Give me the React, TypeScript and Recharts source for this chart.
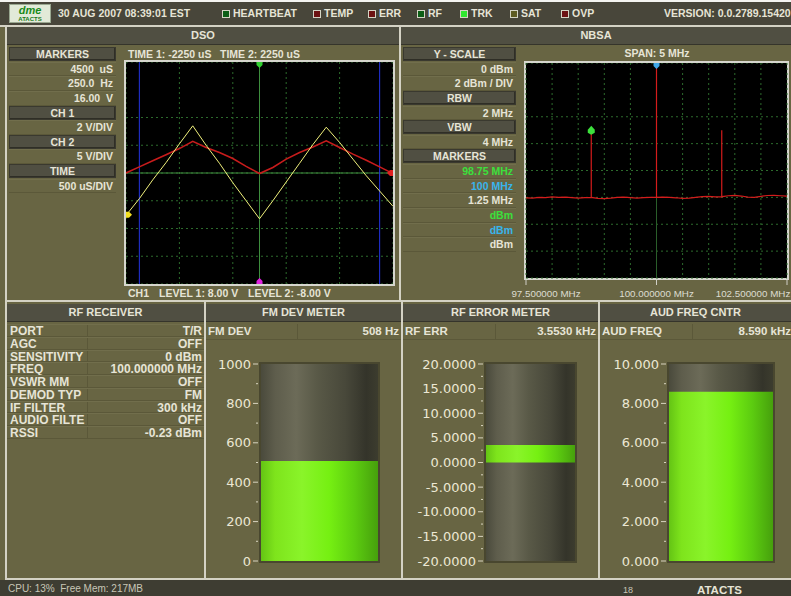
import React from 'react';
import { LineChart, Line, XAxis, YAxis, CartesianGrid, ReferenceLine, ReferenceDot, BarChart, Bar } from 'recharts';

// DSO trace readings (time in uS, CH1 in V at 2 V/div, CH2 in V at 5 V/div)
const dsoTime = [-2500, -2250, -2000, -1750, -1500, -1250, -1000, -750, -500, -250, 0, 250, 500, 750, 1000, 1250, 1500, 1750, 2000, 2250, 2500];
const ch1Volts = [-3.05, -1.85, -0.5, 0.75, 2.1, 3.4, 2.0, 0.7, -0.7, -2.0, -3.3, -2.0, -0.65, 0.7, 2.05, 3.3, 2.2, 1.0, -0.2, -1.3, -2.4];
const ch2Volts = [0, 1.1, 2.2, 3.3, 4.4, 5.7, 4.6, 3.7, 2.6, 1.2, -0.1, 1.0, 2.5, 3.7, 4.7, 5.8, 4.6, 3.4, 2.3, 1.1, -0.1];
const dsoGridTimes = [-2500, -2000, -1500, -1000, -500, 0, 500, 1000, 1500, 2000, 2500];
const ch1GridVolts = [-8, -6, -4, -2, 0, 2, 4, 6, 8];
const timeMarkers = [-2250, 2250];
const ch1Offset = -3.0;

// NBSA spectrum readings (MHz, dBm)
const spectrumFreq = [97.5, 97.625, 97.75, 97.875, 98.0, 98.125, 98.25, 98.375, 98.5, 98.625, 98.75, 98.875, 99.0, 99.125, 99.25, 99.375, 99.5, 99.625, 99.75, 99.875, 100, 100.125, 100.25, 100.375, 100.5, 100.625, 100.75, 100.875, 101.0, 101.125, 101.25, 101.375, 101.5, 101.625, 101.75, 101.875, 102.0, 102.125, 102.25, 102.375, 102.5];
const spectrumLevel = [-10.03, -10.05, -10.0, -10.02, -9.97, -10.0, -9.98, -10.02, -10.05, -10.02, -10.0, -10.08, -10.1, -10.06, -10.0, -9.98, -10.02, -10.05, -10.02, -10.0, -10.0, -9.98, -10.0, -10.03, -10.08, -10.05, -10.0, -9.95, -9.92, -9.96, -9.95, -9.88, -9.85, -9.9, -9.98, -10.0, -9.92, -9.86, -9.85, -9.88, -9.9];
const spurFreq = [98.75, 100, 101.25];
const spurPeak = [-5.05, 0, -5.0];
const spanGridFreq = [97.5, 98, 98.5, 99, 99.5, 100, 100.5, 101, 101.5, 102, 102.5];
const spanLabelFreq = [97.5, 100, 102.5];
const levelGrid = [-16, -14, -12, -10, -8, -6, -4, -2, 0];

// meters
const fmDevTicks = [0, 100, 200, 300, 400, 500, 600, 700, 800, 900, 1000];
const fmDevMajor = [0, 200, 400, 600, 800, 1000];
const rfErrTicks = [-20, -17.5, -15, -12.5, -10, -7.5, -5, -2.5, 0, 2.5, 5, 7.5, 10, 12.5, 15, 17.5, 20];
const rfErrMajor = [-20, -15, -10, -5, 0, 5, 10, 15, 20];
const audTicks = [0, 1, 2, 3, 4, 5, 6, 7, 8, 9, 10];
const audMajor = [0, 2, 4, 6, 8, 10];
const fmDevValue = [{ name: 'FM DEV', value: 508 }];
const rfErrValue = [{ name: 'RF ERR', value: 3.553 }];
const audValue = [{ name: 'AUD FREQ', value: 8.59 }];

const rxLabels = ['PORT', 'AGC', 'SENSITIVITY', 'FREQ', 'VSWR MM', 'DEMOD TYP', 'IF FILTER', 'AUDIO FILTE', 'RSSI'];
const rxValues = ['T/R', 'OFF', '0 dBm', '100.000000 MHz', 'OFF', 'FM', '300 kHz', 'OFF', '-0.23 dBm'];

const dsoData = dsoTime.map((t, i) => ({ t, ch1: ch1Volts[i], ch2: ch2Volts[i] }));

const spectrumData: { f: number; v: number }[] = [];
spectrumFreq.forEach((f, i) => {
  spectrumData.push({ f, v: spectrumLevel[i] });
  const s = spurFreq.indexOf(f);
  if (s >= 0) {
    spectrumData.push({ f, v: spurPeak[s] });
    spectrumData.push({ f, v: spectrumLevel[i] });
  }
});

const OLIVE = '#686543';
const HEAD = '#504f42';
const LINE = '#d4d2c4';
const TXT = '#e6e4d6';
const FONT = '"Liberation Sans", Arial, sans-serif';

const abs = (left: number, top: number, width: number, height: number, extra: React.CSSProperties = {}): React.CSSProperties => ({
  position: 'absolute', left, top, width, height, boxSizing: 'border-box', ...extra,
});

type Item = { text: string; head?: boolean; color?: string };

const SideColumn = ({ x, y, w, items }: { x: number; y: number; w: number; items: Item[] }) => (
  <>
    {items.map((it, i) =>
      it.head ? (
        <div key={i} style={abs(x, y + i * 14.63, w, 14, {
          background: HEAD, border: '1px solid #3a392f', boxShadow: 'inset -1px -1px 0 #2f2e26',
          color: TXT, fontWeight: 'bold', fontSize: 10.5, textAlign: 'center', lineHeight: '12px',
        })}>{it.text}</div>
      ) : (
        <div key={i} style={abs(x, y + i * 14.63, w, 14.63, {
          borderBottom: '1px solid #5b5839', borderTop: '1px solid #716e4c',
          color: it.color || TXT, fontWeight: 'bold', fontSize: 10.5, textAlign: 'right',
          paddingRight: 3, lineHeight: '12.5px', whiteSpace: 'pre',
        })}>{it.text}</div>
      )
    )}
  </>
);

const Header = ({ x, y, w, text }: { x: number; y: number; w: number; text: string }) => (
  <div style={abs(x, y, w, 18, {
    background: HEAD, borderBottom: '1px solid #35342b', color: TXT, fontWeight: 'bold',
    fontSize: 11, textAlign: 'center', lineHeight: '17px',
  })}>{text}</div>
);

const arrowShape = (color: string, dir: 'right' | 'left' | 'down' | 'up') => (p: any) => {
  const { cx, cy } = p;
  let d = '';
  if (dir === 'right') d = `M${cx},${cy - 3} L${cx + 3},${cy - 3} L${cx + 6},${cy} L${cx + 3},${cy + 3} L${cx},${cy + 3} Z`;
  if (dir === 'left') d = `M${cx},${cy - 3} L${cx - 3},${cy - 3} L${cx - 6},${cy} L${cx - 3},${cy + 3} L${cx},${cy + 3} Z`;
  if (dir === 'down') d = `M${cx - 3},${cy} L${cx + 3},${cy} L${cx + 3},${cy + 3} L${cx},${cy + 6} L${cx - 3},${cy + 3} Z`;
  if (dir === 'up') d = `M${cx - 3},${cy} L${cx + 3},${cy} L${cx + 3},${cy - 3} L${cx},${cy - 6} L${cx - 3},${cy - 3} Z`;
  return <path d={d} fill={color} />;
};

const diamondShape = (color: string) => (p: any) => {
  const { cx, cy } = p;
  return <path d={`M${cx},${cy - 5} L${cx + 3.5},${cy - 1} L${cx + 3.5},${cy + 2} L${cx},${cy + 4} L${cx - 3.5},${cy + 2} L${cx - 3.5},${cy - 1} Z`} fill={color} />;
};

const SpanTick = (props: any) => {
  const { x, y, payload } = props;
  const v = payload.value;
  if (!spanLabelFreq.includes(v)) return <g />;
  const shift = v === spanLabelFreq[0] ? 20 : v === spanLabelFreq[spanLabelFreq.length - 1] ? -34 : 0;
  return (
    <g>
      <line x1={x} x2={x} y1={y + 2} y2={y + 7} stroke="#d0d0c8" />
      <text x={x + shift} y={y + 18.5} textAnchor="middle" fill="#dcdcd0" fontSize={9.8} fontFamily={FONT}>
        {v.toFixed(6)} MHz
      </text>
    </g>
  );
};

const meterTick = (major: number[], digits: number) => (props: any) => {
  const { x, y, payload } = props;
  const v = payload.value;
  const isMajor = major.includes(v);
  return (
    <g>
      <line x1={x - (isMajor ? 8 : 5)} x2={x - 3} y1={y} y2={y} stroke="#d8d4c0" />
      {isMajor && (
        <text x={x - 10} y={y + 4.5} textAnchor="end" fill="#ece8d4" fontSize={13} fontFamily='"DejaVu Sans", sans-serif'>
          {v.toFixed(digits)}
        </text>
      )}
    </g>
  );
};

const Meter = ({ left, right, plotLeft, plotRight, data, domain, ticks, major, digits, label, value, divider }: any) => {
  const top = 355;
  const height = 215;
  return (
    <>
      <div style={abs(left, 324, right - left, 16, { borderBottom: '1px solid #5b5839' })}>
        <span style={{ position: 'absolute', left: 2, top: 1, fontWeight: 'bold', fontSize: 11.5, color: TXT }}>{label}</span>
        <span style={{ position: 'absolute', right: 2, top: 1, fontWeight: 'bold', fontSize: 11.5, color: TXT, whiteSpace: 'nowrap' }}>{value}</span>
        <div style={abs(divider - left, 0, 1, 15, { background: '#5b5839' })} />
      </div>
      <div style={abs(plotLeft - 2, 362, plotRight - plotLeft + 4, 201, { background: '#49472f' })} />
      <div style={{ position: 'absolute', left, top }}>
        <BarChart width={right - left} height={height} data={data} barCategoryGap={0}
          margin={{ top: 9, bottom: 9, left: 0, right: right - plotRight }}>
          <XAxis dataKey="name" hide />
          <YAxis domain={domain} ticks={ticks} interval={0} width={plotLeft - left} axisLine={false}
            tickLine={false} tickSize={0} tickMargin={0} tick={meterTick(major, digits)} />
          <Bar dataKey="value" fill="url(#meterGreen)" background={{ fill: 'url(#meterBack)' }} isAnimationActive={false} />
        </BarChart>
      </div>
    </>
  );
};

const statusItems = [
  { label: 'HEARTBEAT', color: '#0c5e16', x: 222 },
  { label: 'TEMP', color: '#6c1212', x: 313 },
  { label: 'ERR', color: '#6c1212', x: 368 },
  { label: 'RF', color: '#0c5e16', x: 417 },
  { label: 'TRK', color: '#30e830', x: 460 },
  { label: 'SAT', color: '#5e5c22', x: 510 },
  { label: 'OVP', color: '#6c1212', x: 561 },
];

export default function App() {
  return (
    <div style={{ position: 'absolute', left: 0, top: 0, width: 791, height: 596, overflow: 'hidden', background: OLIVE, fontFamily: FONT }}>
      <svg width={0} height={0} style={{ position: 'absolute' }}>
        <defs>
          <linearGradient id="meterBack" x1="0" y1="0" x2="1" y2="0">
            <stop offset="0%" stopColor="#4a4a3c" />
            <stop offset="12%" stopColor="#5e5d4c" />
            <stop offset="30%" stopColor="#6c6b58" />
            <stop offset="48%" stopColor="#595947" />
            <stop offset="72%" stopColor="#48483a" />
            <stop offset="90%" stopColor="#34342a" />
            <stop offset="100%" stopColor="#3c3c2e" />
          </linearGradient>
          <linearGradient id="meterGreen" x1="0" y1="0" x2="1" y2="0">
            <stop offset="0%" stopColor="#64c414" />
            <stop offset="12%" stopColor="#7ee41c" />
            <stop offset="35%" stopColor="#8af42a" />
            <stop offset="58%" stopColor="#76f012" />
            <stop offset="80%" stopColor="#5ccc10" />
            <stop offset="100%" stopColor="#46a00c" />
          </linearGradient>
        </defs>
      </svg>

      {/* top bar */}
      <div style={abs(0, 0, 791, 2, { background: '#f4f4f0' })} />
      <div style={abs(0, 2, 791, 23, { background: '#48463a' })}>
        <div style={abs(9, 2, 42, 19, { background: '#e2ead8', border: '1px solid #9aa890', overflow: 'hidden' })}>
          <div style={{ color: '#1a8a1a', fontWeight: 'bold', fontStyle: 'italic', fontSize: 11, lineHeight: '11px', textAlign: 'center' }}>dme</div>
          <div style={{ color: '#1a7a1a', fontWeight: 'bold', fontSize: 6, lineHeight: '6px', textAlign: 'center' }}>ATACTS</div>
        </div>
        <div style={{ position: 'absolute', left: 58, top: 5, color: TXT, fontWeight: 'bold', fontSize: 10.5 }}>30 AUG 2007 08:39:01 EST</div>
        {statusItems.map((s) => (
          <div key={s.label} style={{ position: 'absolute', left: s.x, top: 5, color: TXT, fontWeight: 'bold', fontSize: 10.5, whiteSpace: 'nowrap' }}>
            <span style={{ display: 'inline-block', width: 6, height: 6, border: '1px solid #d4d4c4', background: s.color, marginRight: 3, verticalAlign: '-1px' }} />
            {s.label}
          </div>
        ))}
        <div style={{ position: 'absolute', left: 664, top: 5, color: TXT, fontWeight: 'bold', fontSize: 10.5, whiteSpace: 'nowrap' }}>VERSION: 0.0.2789.15420</div>
      </div>

      {/* panel outlines */}
      <div style={abs(0, 25, 791, 2, { background: LINE })} />
      <div style={abs(5, 25, 2, 555, { background: LINE })} />
      <div style={abs(399, 25, 2, 277, { background: LINE })} />
      <div style={abs(5, 300, 786, 2, { background: LINE })} />
      <div style={abs(204, 300, 2, 280, { background: LINE })} />
      <div style={abs(401, 300, 2, 280, { background: LINE })} />
      <div style={abs(598, 300, 2, 280, { background: LINE })} />
      <div style={abs(5, 578, 786, 2, { background: LINE })} />

      {/* DSO */}
      <Header x={7} y={27} w={392} text="DSO" />
      <SideColumn x={9} y={47} w={107} items={[
        { text: 'MARKERS', head: true }, { text: '4500  uS' }, { text: '250.0  Hz' }, { text: '16.00  V' },
        { text: 'CH 1', head: true }, { text: '2 V/DIV' }, { text: 'CH 2', head: true }, { text: '5 V/DIV' },
        { text: 'TIME', head: true }, { text: '500 uS/DIV' },
      ]} />
      <div style={{ position: 'absolute', left: 128, top: 48, color: TXT, fontWeight: 'bold', fontSize: 10.5, whiteSpace: 'nowrap' }}>TIME 1: -2250 uS</div>
      <div style={{ position: 'absolute', left: 220, top: 48, color: TXT, fontWeight: 'bold', fontSize: 10.5, whiteSpace: 'nowrap' }}>TIME 2: 2250 uS</div>
      <div style={abs(124, 60, 271, 226, { border: '2px solid #d6d6ce', background: '#000' })} />
      <div style={{ position: 'absolute', left: 126, top: 62 }}>
        <LineChart width={267} height={222} data={dsoData} margin={{ top: 0, right: 0, bottom: 0, left: 0 }}>
          <CartesianGrid stroke="#2c6a2c" strokeDasharray="2 3" />
          <XAxis dataKey="t" type="number" domain={[-2500, 2500]} ticks={dsoGridTimes} hide />
          <YAxis domain={[-8, 8]} ticks={ch1GridVolts} hide />
          <YAxis yAxisId="ch2" domain={[-20, 20]} hide />
          <ReferenceLine x={0} stroke="#3e8e3e" />
          <ReferenceLine y={0} stroke="#3e8e3e" />
          {timeMarkers.map((t) => <ReferenceLine key={t} x={t} stroke="#2434e0" />)}
          <Line yAxisId="ch2" dataKey="ch2" stroke="#c81c1c" strokeWidth={1.6} dot={false} isAnimationActive={false} />
          <Line dataKey="ch1" stroke="#f0f07c" strokeWidth={1} dot={false} isAnimationActive={false} />
          <ReferenceDot x={-2500} y={ch1Offset} ifOverflow="visible" shape={arrowShape('#f4e020', 'right')} />
          <ReferenceDot yAxisId="ch2" x={2500} y={0} ifOverflow="visible" shape={arrowShape('#e02020', 'left')} />
          <ReferenceDot x={0} y={8} ifOverflow="visible" shape={arrowShape('#30d030', 'down')} />
          <ReferenceDot x={0} y={-8} ifOverflow="visible" shape={arrowShape('#e020e0', 'up')} />
        </LineChart>
      </div>
      <div style={{ position: 'absolute', left: 128, top: 287, color: TXT, fontWeight: 'bold', fontSize: 10.5, whiteSpace: 'nowrap' }}>CH1</div>
      <div style={{ position: 'absolute', left: 159, top: 287, color: TXT, fontWeight: 'bold', fontSize: 10.5, whiteSpace: 'nowrap' }}>LEVEL 1: 8.00 V</div>
      <div style={{ position: 'absolute', left: 248, top: 287, color: TXT, fontWeight: 'bold', fontSize: 10.5, whiteSpace: 'nowrap' }}>LEVEL 2: -8.00 V</div>

      {/* NBSA */}
      <Header x={401} y={27} w={390} text="NBSA" />
      <SideColumn x={403} y={47} w={113} items={[
        { text: 'Y - SCALE', head: true }, { text: '0 dBm' }, { text: '2 dBm / DIV' },
        { text: 'RBW', head: true }, { text: '2 MHz' }, { text: 'VBW', head: true }, { text: '4 MHz' },
        { text: 'MARKERS', head: true }, { text: '98.75 MHz', color: '#3ce03c' }, { text: '100 MHz', color: '#38b4ec' },
        { text: '1.25 MHz' }, { text: 'dBm', color: '#3ce03c' }, { text: 'dBm', color: '#38b4ec' }, { text: 'dBm' },
      ]} />
      <div style={{ position: 'absolute', left: 522, width: 270, top: 47, textAlign: 'center', color: TXT, fontWeight: 'bold', fontSize: 10.5 }}>SPAN: 5 MHz</div>
      <div style={abs(524, 61, 265, 219, { border: '2px solid #d6d6ce', background: '#000' })} />
      <div style={{ position: 'absolute', left: 500, top: 63 }}>
        <LineChart width={291} height={237} data={spectrumData} margin={{ top: 0, right: 4, bottom: 0, left: 26 }}>
          <CartesianGrid stroke="#2c6a2c" strokeDasharray="2 3" />
          <XAxis dataKey="f" type="number" domain={[97.5, 102.5]} ticks={spanGridFreq} interval={0} tick={SpanTick}
            tickLine={false} axisLine={false} tickSize={0} tickMargin={0} height={22} />
          <YAxis domain={[-16, 0]} ticks={levelGrid} hide />
          <ReferenceLine segment={[{ x: 100, y: -10 }, { x: 100, y: -16 }]} stroke="#2a5e2a" />
          <Line dataKey="v" stroke="#d41c1c" strokeWidth={1.2} dot={false} isAnimationActive={false} />
          <ReferenceDot x={spurFreq[0]} y={spurPeak[0]} ifOverflow="visible" shape={diamondShape('#3ce03c')} />
          <ReferenceDot x={spurFreq[1]} y={spurPeak[1]} ifOverflow="visible" shape={arrowShape('#40a8e8', 'down')} />
        </LineChart>
      </div>

      {/* RF RECEIVER */}
      <Header x={7} y={304} w={197} text="RF RECEIVER" />
      {rxLabels.map((l, i) => (
        <div key={l} style={abs(7, 324 + i * 12.75, 197, 12.75, { borderBottom: '1px solid #5b5839', borderTop: '1px solid #716e4c' })}>
          <span style={{ position: 'absolute', left: 3, top: -1, fontWeight: 'bold', fontSize: 12, color: TXT, whiteSpace: 'nowrap' }}>{l}</span>
          <span style={{ position: 'absolute', right: 2, top: -1, fontWeight: 'bold', fontSize: 12, color: TXT, whiteSpace: 'nowrap' }}>{rxValues[i]}</span>
          <div style={abs(80, 0, 1, 12, { background: '#5b5839' })} />
        </div>
      ))}

      {/* meters */}
      <Header x={206} y={304} w={195} text="FM DEV METER" />
      <Meter left={206} right={401} plotLeft={261} plotRight={378} data={fmDevValue} domain={[0, 1000]}
        ticks={fmDevTicks} major={fmDevMajor} digits={0} label="FM DEV" value="508 Hz" divider={297} />
      <Header x={403} y={304} w={195} text="RF ERROR METER" />
      <Meter left={403} right={598} plotLeft={486} plotRight={575} data={rfErrValue} domain={[-20, 20]}
        ticks={rfErrTicks} major={rfErrMajor} digits={4} label="RF ERR" value="3.5530 kHz" divider={495} />
      <Header x={600} y={304} w={191} text="AUD FREQ CNTR" />
      <Meter left={600} right={793} plotLeft={669} plotRight={773} data={audValue} domain={[0, 10]}
        ticks={audTicks} major={audMajor} digits={3} label="AUD FREQ" value="8.590 kHz" divider={692} />

      {/* status bar */}
      <div style={abs(0, 580, 791, 16, { background: '#3e3d32' })}>
        <div style={{ position: 'absolute', left: 8, top: 3, color: '#c8c6b6', fontSize: 10 }}>CPU: 13%&nbsp;&nbsp;Free Mem: 217MB</div>
        <div style={{ position: 'absolute', left: 623, top: 5, color: '#c8c6b6', fontSize: 9 }}>18</div>
        <div style={{ position: 'absolute', left: 697, top: 4, color: TXT, fontWeight: 'bold', fontSize: 11.5 }}>ATACTS</div>
      </div>
    </div>
  );
}
